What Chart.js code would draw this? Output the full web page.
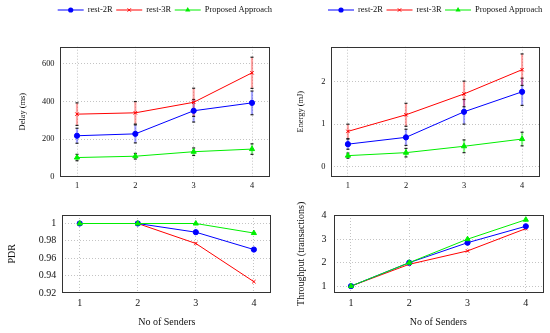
<!DOCTYPE html>
<html><head><meta charset="utf-8">
<script src="https://cdn.jsdelivr.net/npm/chart.js@4.4.1/dist/chart.umd.min.js"></script>
<style>
html,body{margin:0;padding:0;background:#fff;width:550px;height:333px;overflow:hidden}
canvas{position:absolute;left:0;top:0}
</style></head><body>
<canvas id="c1" width="550" height="333"></canvas>
<canvas id="c2" width="550" height="333"></canvas>
<canvas id="c3" width="550" height="333"></canvas>
<canvas id="c4" width="550" height="333"></canvas>
<script>
// ---- data ----
const senders = [1, 2, 3, 4];
const seriesNames = ['rest-2R', 'rest-3R', 'Proposed Approach'];

const delay2R = [218, 228, 351, 393];
const delay2RErr = [40, 48, 60, 63];
const delay3R = [333, 340, 396, 553];
const delay3RErr = [60, 60, 75, 83];
const delayProp = [102, 109, 133, 147];
const delayPropErr = [17, 15, 20, 28];

const energy2R = [0.53, 0.69, 1.29, 1.76];
const energy2RErr = [0.12, 0.19, 0.29, 0.32];
const energy3R = [0.83, 1.22, 1.71, 2.28];
const energy3RErr = [0.17, 0.27, 0.30, 0.37];
const energyProp = [0.26, 0.33, 0.48, 0.65];
const energyPropErr = [0.06, 0.10, 0.15, 0.16];

const pdr2R = [1, 1, 0.99, 0.97];
const pdr3R = [1, 1, 0.977, 0.933];
const pdrProp = [1, 1, 1, 0.989];

const thr2R = [1, 2, 2.85, 3.55];
const thr3R = [1, 1.93, 2.5, 3.45];
const thrProp = [1, 2, 3, 3.83];

const xTicks = [1, 2, 3, 4];
const delayTicks = [0, 200, 400, 600];
const energyTicks = [0, 1, 2];
const pdrTicks = [0.92, 0.94, 0.96, 0.98, 1];
const thrTicks = [1, 2, 3, 4];

// ---- styles ----
const FONT = '"Liberation Serif", "Times New Roman", serif';
const styles = [
  {color: '#0000ff', err: 'rgba(0,0,255,0.35)', pointStyle: 'circle', radius: 2.6, order: 1},
  {color: '#ff0000', err: 'rgba(255,0,0,0.35)', pointStyle: 'crossRot', radius: 2.4, order: 2},
  {color: '#00ee00', err: 'rgba(0,230,0,0.45)', pointStyle: 'triangle', radius: 3, order: 0}
];

function drawMarker(ctx, st, x, y) {
  ctx.save();
  ctx.fillStyle = st.color; ctx.strokeStyle = st.color; ctx.lineWidth = 1;
  const r = st.radius;
  ctx.beginPath();
  if (st.pointStyle === 'circle') { ctx.arc(x, y, r, 0, Math.PI * 2); ctx.fill(); }
  else if (st.pointStyle === 'triangle') {
    ctx.moveTo(x, y - r); ctx.lineTo(x + r * 0.87, y + r * 0.5); ctx.lineTo(x - r * 0.87, y + r * 0.5); ctx.closePath(); ctx.fill();
  } else {
    ctx.moveTo(x - r * 0.7, y - r * 0.7); ctx.lineTo(x + r * 0.7, y + r * 0.7);
    ctx.moveTo(x + r * 0.7, y - r * 0.7); ctx.lineTo(x - r * 0.7, y + r * 0.7); ctx.stroke();
  }
  ctx.restore();
}

const framePlugin = {
  id: 'frame',
  afterDatasetsDraw(chart) {
    const a = chart.chartArea, c = chart.ctx;
    c.save(); c.strokeStyle = '#333'; c.lineWidth = 1;
    c.strokeRect(Math.round(a.left) + 0.5, Math.round(a.top) + 0.5, Math.round(a.right - a.left) - 1, Math.round(a.bottom - a.top) - 1);
    c.restore();
  }
};

const errPlugin = {
  id: 'errbars',
  beforeDatasetsDraw(chart) {
    const ctx = chart.ctx, xs = chart.scales.x, ys = chart.scales.y;
    chart.data.datasets.forEach(ds => {
      if (!ds.errors) return;
      ds.data.forEach((p, i) => {
        const e = ds.errors[i];
        const x = xs.getPixelForValue(p.x);
        const y1 = ys.getPixelForValue(p.y - e), y2 = ys.getPixelForValue(p.y + e);
        ctx.save();
        ctx.strokeStyle = ds.errColor; ctx.lineWidth = 2.2;
        ctx.beginPath(); ctx.moveTo(x, y1); ctx.lineTo(x, y2); ctx.stroke();
        ctx.fillStyle = '#222';
        ctx.fillRect(x - 1.5, y1 - 0.6, 3, 1.2);
        ctx.fillRect(x - 1.5, y2 - 0.6, 3, 1.2);
        ctx.restore();
      });
    });
  }
};

const legendPlugin = {
  id: 'lineLegend',
  afterDraw(chart, args, opts) {
    if (!opts || !opts.show) return;
    const ctx = chart.ctx;
    let x = opts.x; const y = opts.y;
    ctx.save();
    ctx.font = opts.size + 'px ' + FONT;
    ctx.textBaseline = 'middle'; ctx.textAlign = 'left';
    seriesNames.forEach((name, i) => {
      const st = styles[i];
      ctx.strokeStyle = st.color; ctx.lineWidth = 1;
      ctx.beginPath(); ctx.moveTo(x, y); ctx.lineTo(x + 26, y); ctx.stroke();
      drawMarker(ctx, st, x + 13, y);
      ctx.fillStyle = '#111';
      ctx.fillText(name, x + 30, y);
      x += 30 + ctx.measureText(name).width + 3.5;
    });
    ctx.restore();
  }
};

function makeChart(id, c) {
  const xH = c.xH;
  const datasets = c.series.map((vals, i) => ({
    label: seriesNames[i],
    data: senders.map((s, k) => ({x: s, y: vals[k]})),
    errors: c.errors ? c.errors[i] : null,
    errColor: styles[i].err,
    borderColor: styles[i].color,
    backgroundColor: styles[i].color,
    borderWidth: 1,
    pointStyle: styles[i].pointStyle,
    pointRadius: styles[i].radius,
    pointBorderWidth: 1,
    order: styles[i].order,
    tension: 0
  }));
  const gridOpt = {color: '#c4c4c4', lineWidth: 1, drawTicks: false};
  const fmt = v => String(+(+v).toFixed(4));
  return new Chart(document.getElementById(id), {
    type: 'line',
    data: {datasets},
    plugins: [errPlugin, framePlugin, legendPlugin],
    options: {
      responsive: false, animation: false, devicePixelRatio: 1,
      layout: {padding: {left: c.titleLeft, right: 550 - c.area.r, top: c.area.t, bottom: 333 - c.area.b - xH}},
      plugins: {legend: {display: false}, tooltip: {enabled: false},
        lineLegend: c.legend || {show: false}},
      scales: {
        x: {
          type: 'linear', min: 0.7, max: 4.3,
          afterBuildTicks: s => { s.ticks = xTicks.map(v => ({value: v})); },
          afterFit: s => { s.height = xH; },
          grid: gridOpt, border: {display: false, dash: [1, 2]},
          ticks: {color: '#111', padding: c.xPad, font: {family: FONT, size: c.fs}, maxRotation: 0, callback: fmt},
          title: {display: !!c.xTitle, text: c.xTitle || '', color: '#111', padding: 0, font: {family: FONT, size: c.fs}}
        },
        y: {
          type: 'linear', min: c.yMin, max: c.yMax,
          afterBuildTicks: s => { s.ticks = c.yTicks.map(v => ({value: v})); },
          afterFit: s => { s.width = c.area.l - c.titleLeft; },
          grid: gridOpt, border: {display: false, dash: [1, 2]},
          ticks: {color: '#111', padding: c.yPad, font: {family: FONT, size: c.fs}, callback: fmt},
          title: {display: true, text: c.yTitle, color: '#111', padding: 0, font: {family: FONT, size: c.fs}}
        }
      }
    }
  });
}

makeChart('c1', {
  series: [delay2R, delay3R, delayProp], errors: [delay2RErr, delay3RErr, delayPropErr],
  yMin: 0, yMax: 692, yTicks: delayTicks, yTitle: 'Delay (ms)',
  area: {l: 59.5, r: 269.5, t: 46.7, b: 176.7}, titleLeft: 18, xH: 20, fs: 8.4, xPad: 4, yPad: 5,
  legend: {show: true, x: 57.7, y: 10, size: 8.5}
});
makeChart('c2', {
  series: [energy2R, energy3R, energyProp], errors: [energy2RErr, energy3RErr, energyPropErr],
  yMin: -0.235, yMax: 2.82, yTicks: energyTicks, yTitle: 'Energy (mJ)',
  area: {l: 330.5, r: 539.5, t: 46.7, b: 176.7}, titleLeft: 295.5, xH: 20, fs: 8.4, xPad: 4, yPad: 5,
  legend: {show: true, x: 328, y: 10, size: 8.5}
});
makeChart('c3', {
  series: [pdr2R, pdr3R, pdrProp], errors: null,
  yMin: 0.9203, yMax: 1.0098, yTicks: pdrTicks, yTitle: 'PDR', xTitle: 'No of Senders',
  area: {l: 62.3, r: 271.3, t: 215, b: 292.7}, titleLeft: 6.5, xH: 35.8, fs: 10, xPad: 5, yPad: 6
});
makeChart('c4', {
  series: [thr2R, thr3R, thrProp], errors: null,
  yMin: 0.72, yMax: 4.03, yTicks: thrTicks, yTitle: 'Throughput (transactions)', xTitle: 'No of Senders',
  area: {l: 333.5, r: 543.3, t: 215, b: 292.7}, titleLeft: 295.3, xH: 35.8, fs: 10, xPad: 5, yPad: 7
});
</script>
</body></html>
